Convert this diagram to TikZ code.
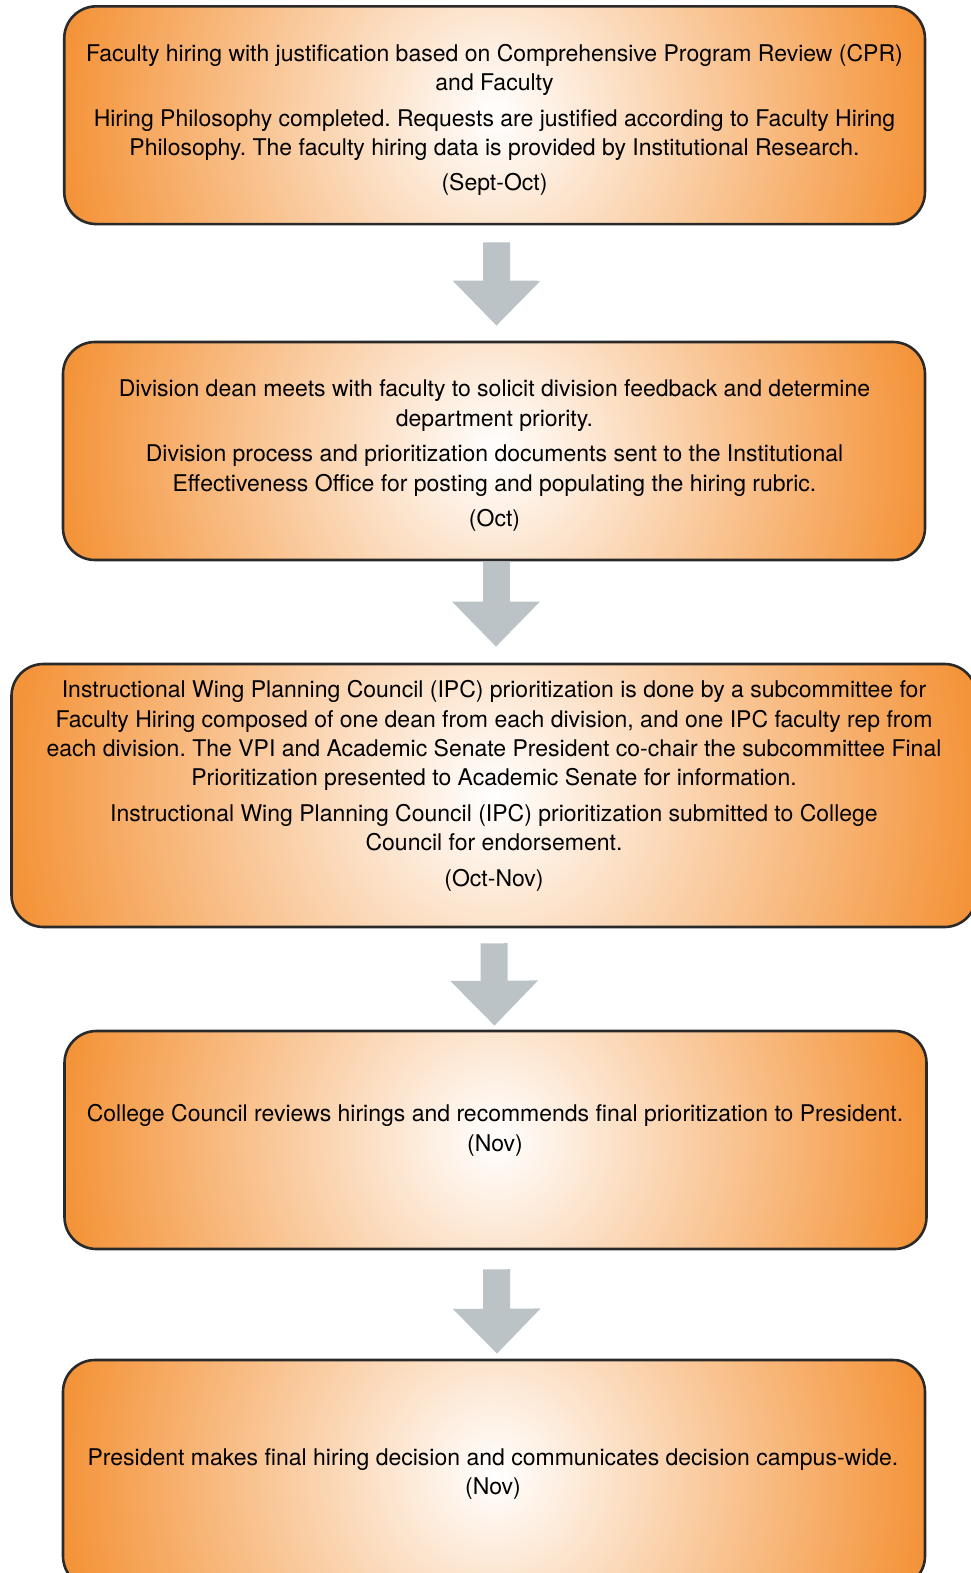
\documentclass[tikz,border=0pt]{standalone}
\usepackage{fontspec}
\setmainfont{TeX Gyre Heros}
\usetikzlibrary{arrows.meta}
\definecolor{boxorange}{HTML}{F4943A}
\definecolor{boxline}{HTML}{2A2A2A}
\definecolor{flowgray}{HTML}{BCC3C7}
\tikzset{
  % rounded stage box with a circular white-to-orange glow (#1 width, #2 height, in pt)
  stage/.style 2 args={draw=boxline, line width=2.6pt, rounded corners=32pt,
    rectangle, inner sep=0pt, minimum width=#1pt, minimum height=#2pt,
    path picture={
      \shade[inner color=white, outer color=boxorange]
        ([xshift=-#1pt/2, yshift=-#1pt/2]path picture bounding box.center)
        rectangle
        ([xshift=#1pt/2, yshift=#1pt/2]path picture bounding box.center);
    }},
  stagetext/.style={align=center, font=\fontsize{23}{29.4}\selectfont, inner sep=0pt},
  flow/.style={draw=flowgray, line width=27pt,
    -{Triangle[width=85pt,length=45pt]}}
}
\newcommand{\pgap}{\\[6pt]}
\begin{document}
\frenchspacing
\begin{tikzpicture}[x=1pt,y=-1pt]
\useasboundingbox (0,0) rectangle (971,1573);
\clip (0,0) rectangle (971,1573);

% stage boxes
\node[stage={860.7}{217.7}] (b1) at (494.6,115.2) {};
\node[stage={862}{218}]     (b2) at (494,451) {};
\node[stage={965}{263}]     (b3) at (494,795.5) {};
\node[stage={862}{218}]     (b4) at (495.5,1140) {};
\node[stage={862}{228}]     (b5) at (494,1474) {};

% stage texts
\node[stagetext] (t1) at (494.5,120) {Faculty hiring with justification based on Comprehensive Program Review (CPR)\\ and Faculty\pgap
Hiring Philosophy completed. Requests are justified according to Faculty Hiring\\ Philosophy. The faculty hiring data is provided by Institutional Research.\pgap
(Sept-Oct)};
\node[stagetext] (t2) at (494.5,455.8) {Division dean meets with faculty to solicit division feedback and determine\\ department priority.\pgap
Division process and prioritization documents sent to the Institutional\\ Effectiveness Office for posting and populating the hiring rubric.\pgap
(Oct)};
\node[stagetext] (t3) at (494,785.8) {Instructional Wing Planning Council (IPC) prioritization is done by a subcommittee for\\ Faculty Hiring composed of one dean from each division, and one IPC faculty rep from\\ each division. The VPI and Academic Senate President co-chair the subcommittee Final\\ Prioritization presented to Academic Senate for information.\pgap
Instructional Wing Planning Council (IPC) prioritization submitted to College\\ Council for endorsement.\pgap
(Oct-Nov)};
\node[stagetext] (t4) at (495,1130.5) {College Council reviews hirings and recommends final prioritization to President.\\ (Nov)};
\node[stagetext] (t5) at (493,1474) {President makes final hiring decision and communicates decision campus-wide.\\ (Nov)};

% flow arrows between stages
\draw[flow] ([xshift=2pt,yshift=-17pt]b1.south) -- ([xshift=2.5pt,yshift=15pt]b2.north);
\draw[flow] ([xshift=2pt,yshift=-1pt]b2.south) -- ([xshift=2pt,yshift=16pt]b3.north);
\draw[flow] ([xshift=0pt,yshift=-15pt]b3.south) -- ([xshift=-1pt,yshift=4pt]b4.north);
\draw[flow] ([xshift=1pt,yshift=-19pt]b4.south) -- ([xshift=3pt,yshift=5pt]b5.north);
\end{tikzpicture}
\end{document}
